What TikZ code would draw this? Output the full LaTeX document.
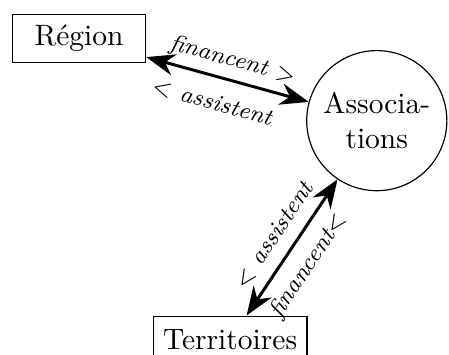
\documentclass[tikz,border=0pt]{standalone}
\usetikzlibrary{arrows.meta, positioning, shapes.geometric}
\tikzset{
    >=Stealth,
    ent_box/.style={
        rectangle,
        draw=black,
        thin,
        minimum height=16.3pt,
        inner sep=3.33pt,
        align=center
    },
    ent_circle/.style={
        circle,
        draw=black,
        thin,
        minimum size=47.5pt,
        inner sep=1pt,
        align=center
    },
    rel_arrow/.style={
        {Stealth[scale=1.3]}-{Stealth[scale=1.3]},
        line width=1pt
    },
    rel_label/.style={
        font=\footnotesize\itshape,
        sloped,
        inner sep=2.5pt
    }
}

\begin{document}
\begin{tikzpicture}

% Entities
\node[ent_box, minimum width=45.1pt] (Region) {Région};
\node[ent_circle, right=54.2pt of Region, yshift=-27.8pt] (Associations)
  {Associa-\\tions};
\node[ent_box, below=85.5pt of Region, xshift=51.2pt] (Territoires) {Territoires};

% Relations
\draw[rel_arrow] (Region) -- (Associations)
  node[rel_label, above, pos=0.5] (RegFin) {financent $>$}
  node[rel_label, below=3pt, pos=0.45] (RegAss) {$<$ assistent};
\draw[rel_arrow] (Territoires) -- (Associations)
  node[rel_label, above=1.5pt, pos=0.5] (TerAss) {$<$ assistent}
  node[rel_label, below=1.5pt, pos=0.46] (TerFin) {financent$<$};

% Page frame (cuts the bottom of Territoires)
\pgfresetboundingbox
\useasboundingbox ([shift={(-4.07pt,4.75pt)}]Region.north west) rectangle ++(152.2pt,-120pt);

\end{tikzpicture}
\end{document}
